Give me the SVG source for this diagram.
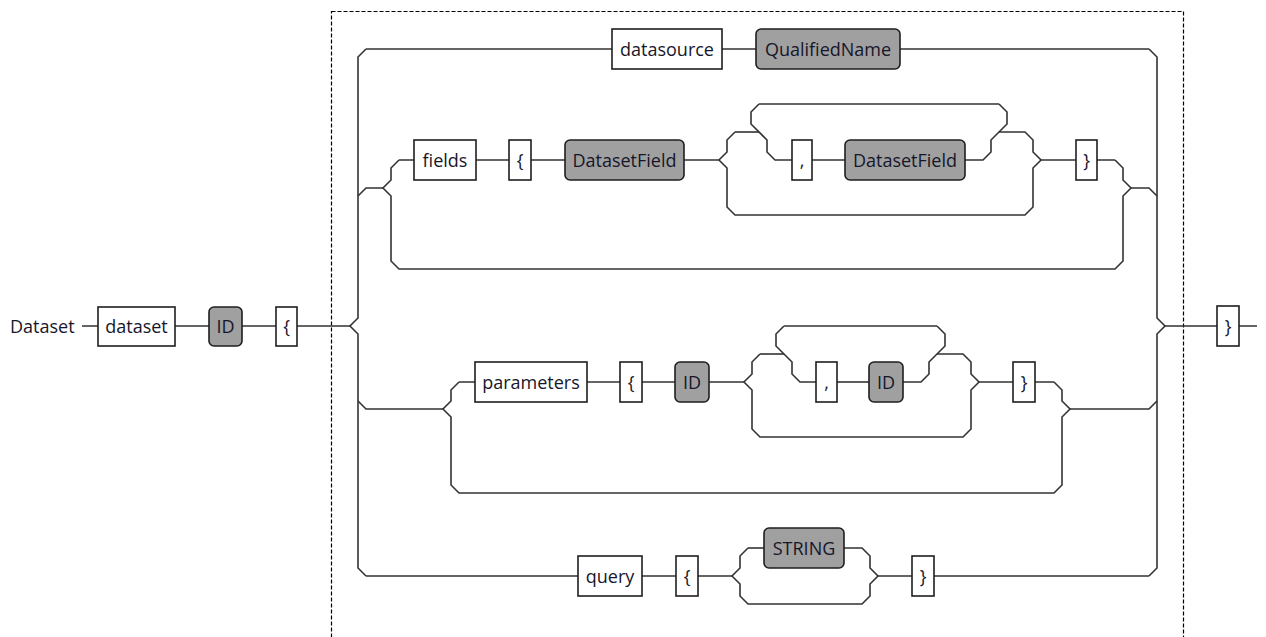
<svg xmlns="http://www.w3.org/2000/svg" width="1266" height="637" viewBox="0 0 1266 637">
<style>
.bg{fill:#ffffff}
.kw rect{fill:#ffffff;stroke:#1e1e1e;stroke-width:1.6}
.rule rect{fill:#a0a0a0;stroke:#1e1e1e;stroke-width:1.6}
text{font-family:"Open Sans","Noto Sans","Liberation Sans",sans-serif;font-size:18px;fill:#16162a;text-anchor:middle}
.lbl{text-anchor:start}
#connectors path{fill:none;stroke:#333;stroke-width:1.6;stroke-linejoin:miter}
.frame{fill:none;stroke:#000;stroke-width:1.2;stroke-dasharray:4 2}
</style>
<rect class="bg" x="0" y="0" width="1266" height="637"/>
<rect class="frame" x="331.5" y="11.5" width="852" height="700"/>

<g id="connectors">
  <!-- entry / exit -->
  <path d="M82,326 H98 M175,326 H209 M242,326 H276 M297,326 H350"/>
  <path d="M1165,326 H1217 M1239,326 H1257"/>
  <!-- main choice verticals -->
  <path d="M366,49 L358,57 V318 L350,326 L358,334 V568 L366,576"/>
  <path d="M1149,49 L1157,57 V318 L1165,326 L1157,334 V568 L1149,576"/>
  <!-- datasource row -->
  <path d="M366,49 H612 M722,49 H756 M900,49 H1149"/>
  <!-- fields optional -->
  <path d="M358,196 L366,188 H383"/>
  <path d="M399,160 L391,168 V180 L383,188 L391,196 V261 L399,269 H1115 L1123,261 V196 L1131,188 L1123,180 V168 L1115,160"/>
  <path d="M1131,188 H1149 L1157,196"/>
  <path d="M399,160 H414 M476,160 H509 M531,160 H565 M684,160 H719"/>
  <path d="M735,132 L727,140 V152 L719,160 L727,168 V207 L735,215 H1025 L1033,207 V168 L1041,160 L1033,152 V140 L1025,132 H999"/>
  <path d="M735,132 H759"/>
  <path d="M759,104 L751,112 V124 L767,140 V152 L775,160 H792"/>
  <path d="M999,104 L1007,112 V124 L991,140 V152 L983,160 H965"/>
  <path d="M759,104 H999"/>
  <path d="M812,160 H845"/>
  <path d="M1041,160 H1076 M1097,160 H1115"/>
  <!-- parameters optional -->
  <path d="M358,401 L366,409 H443"/>
  <path d="M459,382 L451,390 V401 L443,409 L451,417 V485 L459,493 H1054 L1062,485 V417 L1070,409 L1062,401 V390 L1054,382"/>
  <path d="M1070,409 H1149 L1157,401"/>
  <path d="M459,382 H475 M587,382 H620 M642,382 H675 M709,382 H744"/>
  <path d="M760,354 L752,362 V374 L744,382 L752,390 V429 L760,437 H963 L971,429 V390 L979,382 L971,374 V362 L963,354 H937"/>
  <path d="M760,354 H784"/>
  <path d="M784,326 L776,334 V346 L792,362 V374 L800,382 H816"/>
  <path d="M937,326 L945,334 V346 L929,362 V374 L921,382 H903"/>
  <path d="M784,326 H937"/>
  <path d="M837,382 H869"/>
  <path d="M979,382 H1013 M1035,382 H1054"/>
  <!-- query row -->
  <path d="M366,576 H578 M642,576 H676 M698,576 H732"/>
  <path d="M748,548 L740,556 V568 L732,576 L740,584 V596 L748,604 H862 L870,596 V584 L878,576 L870,568 V556 L862,548 H844"/>
  <path d="M748,548 H764"/>
  <path d="M878,576 H912 M934,576 H1149"/>
</g>

<g id="label-Dataset"><text class="lbl" x="10" y="332.5">Dataset</text></g>
<g id="kw-dataset" class="kw"><rect x="98" y="307" width="77" height="39"/><text x="136.5" y="332.5">dataset</text></g>
<g id="rule-ID-1" class="rule"><rect x="209" y="307" width="33" height="39" rx="5"/><text x="225.5" y="332.5">ID</text></g>
<g id="kw-lbrace-1" class="kw"><rect x="276" y="307" width="21" height="39"/><text x="286.5" y="332.5">{</text></g>

<g id="kw-datasource" class="kw"><rect x="612" y="29" width="110" height="40"/><text x="667" y="55.5">datasource</text></g>
<g id="rule-QualifiedName" class="rule"><rect x="756" y="29" width="144" height="40" rx="5"/><text x="828" y="55.5">QualifiedName</text></g>

<g id="kw-fields" class="kw"><rect x="414" y="140" width="62" height="40"/><text x="445" y="166.5">fields</text></g>
<g id="kw-lbrace-2" class="kw"><rect x="509" y="140" width="22" height="40"/><text x="520" y="166.5">{</text></g>
<g id="rule-DatasetField-1" class="rule"><rect x="565" y="140" width="119" height="40" rx="5"/><text x="624.5" y="166.5">DatasetField</text></g>
<g id="kw-comma-1" class="kw"><rect x="792" y="140" width="20" height="40"/><text x="802" y="166.5">,</text></g>
<g id="rule-DatasetField-2" class="rule"><rect x="845" y="140" width="120" height="40" rx="5"/><text x="905" y="166.5">DatasetField</text></g>
<g id="kw-rbrace-2" class="kw"><rect x="1076" y="140" width="21" height="40"/><text x="1086.5" y="166.5">}</text></g>

<g id="kw-parameters" class="kw"><rect x="475" y="362" width="112" height="40"/><text x="531" y="388.5">parameters</text></g>
<g id="kw-lbrace-3" class="kw"><rect x="620" y="362" width="22" height="40"/><text x="631" y="388.5">{</text></g>
<g id="rule-ID-2" class="rule"><rect x="675" y="362" width="34" height="40" rx="5"/><text x="692" y="388.5">ID</text></g>
<g id="kw-comma-2" class="kw"><rect x="816" y="362" width="21" height="40"/><text x="826.5" y="388.5">,</text></g>
<g id="rule-ID-3" class="rule"><rect x="869" y="362" width="34" height="40" rx="5"/><text x="886" y="388.5">ID</text></g>
<g id="kw-rbrace-3" class="kw"><rect x="1013" y="362" width="22" height="40"/><text x="1024" y="388.5">}</text></g>

<g id="kw-query" class="kw"><rect x="578" y="556" width="64" height="40"/><text x="610" y="582.5">query</text></g>
<g id="kw-lbrace-4" class="kw"><rect x="676" y="556" width="22" height="40"/><text x="687" y="582.5">{</text></g>
<g id="rule-STRING" class="rule"><rect x="764" y="528" width="80" height="40" rx="5"/><text x="804" y="554.5">STRING</text></g>
<g id="kw-rbrace-4" class="kw"><rect x="912" y="556" width="22" height="40"/><text x="923" y="582.5">}</text></g>

<g id="kw-rbrace-1" class="kw"><rect x="1217" y="306" width="22" height="40"/><text x="1228" y="332.5">}</text></g>
</svg>
